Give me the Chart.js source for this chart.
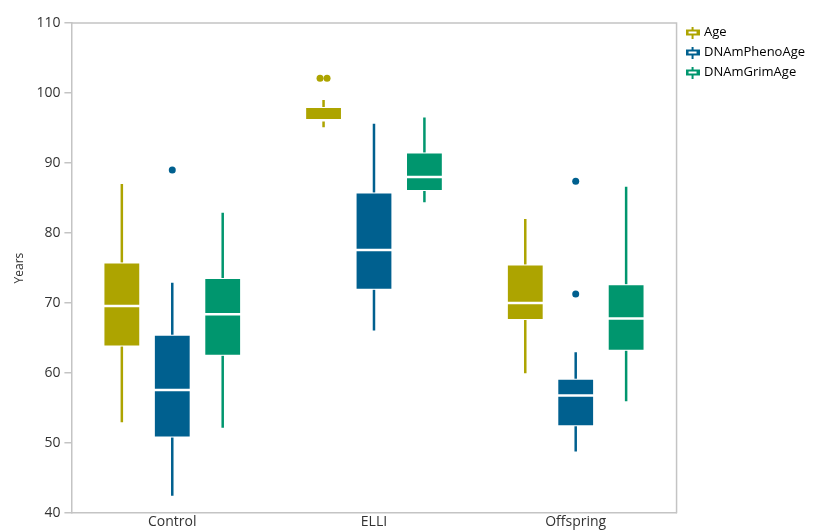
<!DOCTYPE html>
<html>
<head>
<meta charset="utf-8">
<script src="https://cdn.jsdelivr.net/npm/chart.js@4.4.0/dist/chart.umd.min.js"></script>
<style>
  html, body { margin: 0; padding: 0; background: #fff; }
  #wrap { width: 823px; height: 532px; }
</style>
</head>
<body>
<div id="wrap"><canvas id="boxChart"></canvas></div>
<script>
const groups = ["Control", "ELLI", "Offspring"];
const seriesNames = ["Age", "DNAmPhenoAge", "DNAmGrimAge"];
const seriesColors = ["#ADA400", "#00608F", "#00966E"];
const yTicks = [40, 50, 60, 70, 80, 90, 100, 110];

// one value per group: Control, ELLI, Offspring
const ageMin = [53.0, 95.1, 60.0];
const ageQ1 = [63.8, 96.0, 67.6];
const ageMedian = [69.6, 96.1, 70.0];
const ageQ3 = [75.8, 98.0, 75.5];
const ageMax = [87.0, 99.0, 82.0];
const ageOutliers = [[], [102.1, 102.1], []];

const phenoMin = [42.5, 66.1, 48.8];
const phenoQ1 = [50.8, 71.9, 52.4];
const phenoMedian = [57.6, 77.6, 56.8];
const phenoQ3 = [65.5, 85.8, 59.2];
const phenoMax = [72.9, 95.6, 63.0];
const phenoOutliers = [[89.0], [], [87.4, 71.3]];

const grimMin = [52.2, 84.4, 56.0];
const grimQ1 = [62.5, 86.0, 63.2];
const grimMedian = [68.4, 88.0, 67.8];
const grimQ3 = [73.6, 91.5, 72.7];
const grimMax = [82.9, 96.5, 86.6];
const grimOutliers = [[], [], []];

const stats = [
  { min: ageMin, q1: ageQ1, med: ageMedian, q3: ageQ3, max: ageMax, out: ageOutliers },
  { min: phenoMin, q1: phenoQ1, med: phenoMedian, q3: phenoQ3, max: phenoMax, out: phenoOutliers },
  { min: grimMin, q1: grimQ1, med: grimMedian, q3: grimQ3, max: grimMax, out: grimOutliers }
];

const font = "'Open Sans', sans-serif";

// small box-plot glyph for the legend
function legendIcon(color) {
  const c = document.createElement("canvas");
  c.width = 14; c.height = 12;
  const g = c.getContext("2d");
  g.fillStyle = color;
  g.fillRect(6, 0, 2, 3);
  g.fillRect(6, 9, 2, 3);
  g.fillRect(0, 3, 14, 6);
  g.fillStyle = "#fff";
  g.fillRect(3, 5, 8, 2);
  return c;
}
const icons = seriesColors.map(legendIcon);

const boxExtras = {
  id: "boxExtras",
  afterLayout(chart) {
    // nudge legend to sit like the original
    const lg = chart.legend;
    lg.top -= 4; lg.bottom -= 4;
    lg.left += 4; lg.right += 4;
  },
  beforeDatasetsDraw(chart) {
    const ctx = chart.ctx;
    const y = chart.scales.y;
    ctx.save();
    stats.forEach((s, di) => {
      chart.getDatasetMeta(di).data.forEach((bar, i) => {
        ctx.strokeStyle = seriesColors[di];
        ctx.lineWidth = 2.5;
        ctx.beginPath();
        ctx.moveTo(bar.x, y.getPixelForValue(s.q3[i]));
        ctx.lineTo(bar.x, y.getPixelForValue(s.max[i]));
        ctx.moveTo(bar.x, y.getPixelForValue(s.q1[i]));
        ctx.lineTo(bar.x, y.getPixelForValue(s.min[i]));
        ctx.stroke();
      });
    });
    ctx.restore();
  },
  afterDatasetsDraw(chart) {
    const ctx = chart.ctx;
    const y = chart.scales.y;
    const a = chart.chartArea;
    ctx.save();
    stats.forEach((s, di) => {
      chart.getDatasetMeta(di).data.forEach((bar, i) => {
        const half = bar.width / 2;
        const my = y.getPixelForValue(s.med[i]);
        ctx.strokeStyle = "#fff";
        ctx.lineWidth = 2.5;
        ctx.beginPath();
        ctx.moveTo(bar.x - half, my);
        ctx.lineTo(bar.x + half, my);
        ctx.stroke();
        ctx.fillStyle = seriesColors[di];
        const seen = {};
        s.out[i].forEach(v => { seen[v] = (seen[v] || 0) + 1; });
        const placed = {};
        s.out[i].forEach(v => {
          const n = seen[v];
          const j = placed[v] = (placed[v] || 0) + 1;
          const dx = (j - (n + 1) / 2) * 7;
          ctx.beginPath();
          ctx.arc(bar.x + dx, y.getPixelForValue(v), 3.5, 0, Math.PI * 2);
          ctx.fill();
        });
      });
    });
    // frame: top and right edges
    ctx.strokeStyle = "#c4c4c4";
    ctx.lineWidth = 1.5;
    ctx.beginPath();
    ctx.moveTo(a.left, a.top);
    ctx.lineTo(a.right, a.top);
    ctx.lineTo(a.right, a.bottom);
    ctx.stroke();
    ctx.restore();
  }
};

const datasets = seriesNames.map((name, di) => ({
  label: name,
  data: groups.map((g, i) => [stats[di].q1[i], stats[di].q3[i]]),
  backgroundColor: seriesColors[di],
  borderColor: "rgba(255,255,255,0.55)",
  borderWidth: 1,
  borderSkipped: false,
  categoryPercentage: 0.75,
  barPercentage: 0.73
}));

new Chart(document.getElementById("boxChart"), {
  type: "bar",
  data: { labels: groups, datasets: datasets },
  plugins: [boxExtras],
  options: {
    responsive: true,
    maintainAspectRatio: false,
    animation: false,
    layout: { padding: { top: 23, right: 12, left: 12, bottom: 2 } },
    plugins: {
      tooltip: { enabled: false },
      legend: {
        position: "right",
        align: "start",
        labels: {
          usePointStyle: true,
          pointStyleWidth: 10,
          padding: 7,
          color: "#333",
          font: { family: font, size: 13 },
          generateLabels: () => seriesNames.map((n, i) => ({
            text: n,
            pointStyle: icons[i],
            fillStyle: seriesColors[i],
            strokeStyle: seriesColors[i],
            lineWidth: 0,
            datasetIndex: i
          }))
        }
      }
    },
    scales: {
      x: {
        grid: { display: false, drawTicks: false, tickLength: 0 },
        border: { display: true, color: "#c4c4c4", width: 1.5 },
        ticks: { color: "#333", font: { family: font, size: 14 }, padding: 0 }
      },
      y: {
        min: 40,
        max: 110,
        afterBuildTicks: axis => { axis.ticks = yTicks.map(v => ({ value: v })); },
        grid: { drawOnChartArea: false, drawTicks: true, tickLength: 7, color: "#c4c4c4", lineWidth: 1.5 },
        border: { display: true, color: "#c4c4c4", width: 1.5 },
        ticks: { color: "#333", font: { family: font, size: 14 }, padding: 4 },
        title: { display: true, text: "Years", color: "#333", font: { family: font, size: 12 }, padding: { top: 0, bottom: 6 } }
      }
    }
  }
});
</script>
</body>
</html>
